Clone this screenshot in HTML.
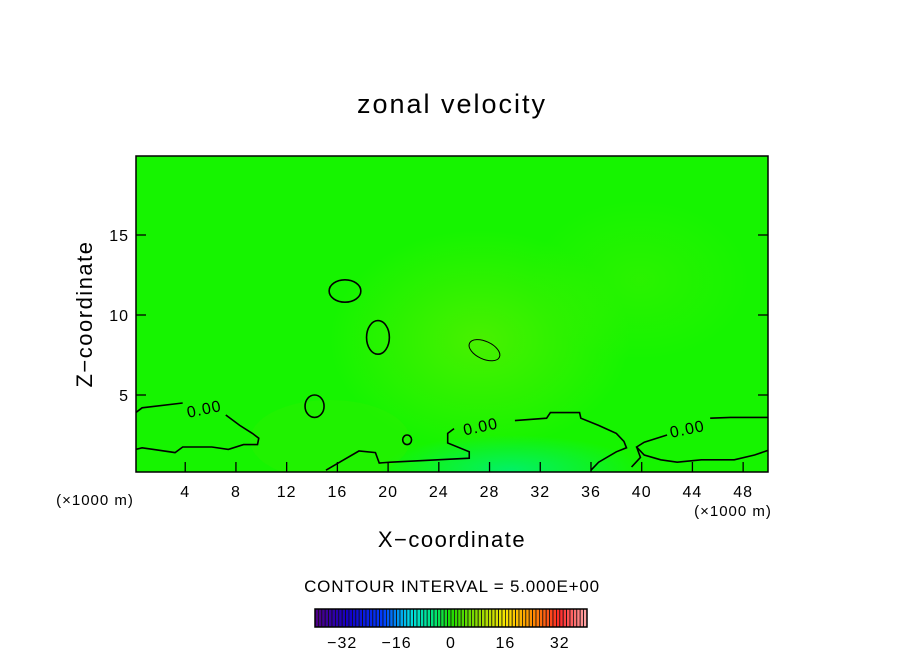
<!DOCTYPE html>
<html><head><meta charset="utf-8"><style>
body{margin:0;background:#fff}
svg text{font-family:"Liberation Sans",sans-serif;fill:#000}
</style></head><body>
<svg width="904" height="654" viewBox="0 0 904 654">
<defs>
<radialGradient id="gWarm" cx="0.5" cy="0.5" r="0.5"><stop offset="0" stop-color="#4ef000" stop-opacity="0.9"/><stop offset="1" stop-color="#4ef000" stop-opacity="0"/></radialGradient>
<radialGradient id="gCool" cx="0.5" cy="0.5" r="0.5"><stop offset="0" stop-color="#00f070" stop-opacity="0.9"/><stop offset="1" stop-color="#00f070" stop-opacity="0"/></radialGradient>
<clipPath id="clip"><rect x="136" y="156" width="632" height="316"/></clipPath>
</defs>
<text x="452" y="113" font-size="27" letter-spacing="2" text-anchor="middle">zonal velocity</text>
<g clip-path="url(#clip)">
<rect x="136" y="156" width="632" height="316" fill="#16f400"/>
<ellipse cx="480" cy="340" rx="150" ry="110" fill="url(#gWarm)"/>
<ellipse cx="640" cy="280" rx="110" ry="80" fill="url(#gWarm)" opacity="0.4"/>
<ellipse cx="510" cy="470" rx="130" ry="35" fill="url(#gCool)"/>
<ellipse cx="330" cy="440" rx="80" ry="40" fill="#38f000" opacity="0.3"/>
<g id="contours"></g>
</g>
<rect x="136" y="156" width="632" height="316" fill="none" stroke="#000" stroke-width="1.5"/>
<g id="axes"></g>
<text x="95" y="505" font-size="15" letter-spacing="1" text-anchor="middle">(×1000 m)</text>
<text x="733" y="516" font-size="15" letter-spacing="1" text-anchor="middle">(×1000 m)</text>
<text x="452" y="547" font-size="22" letter-spacing="1.5" text-anchor="middle">X−coordinate</text>
<text transform="translate(92,314) rotate(-90)" font-size="22" letter-spacing="1.5" text-anchor="middle">Z−coordinate</text>
<text x="452" y="592" font-size="17" letter-spacing="0.8" text-anchor="middle">CONTOUR INTERVAL = 5.000E+00</text>
<g id="cbar"></g>
</svg>
<script>
const xTicks=[4,8,12,16,20,24,28,32,36,40,44,48];
const zTicks=[5,10,15];
const cbarTicks=[-32,-16,0,16,32];
const contourLines=[
 [[0.1,3.9],[0.6,4.2],[3.8,4.5]],
 [[7.2,3.75],[8.3,3.1],[9.3,2.6],[9.8,2.3],[9.7,1.9],[8.6,1.9],[7.4,1.6],[6.1,1.75],[3.8,1.75],[3.2,1.4],[1.5,1.6],[0.6,1.7],[0.1,1.6]],
 [[15.1,0.3],[16.4,0.9],[17.7,1.5],[19.0,1.4],[19.3,0.75],[20.2,0.8],[26.4,1.05],[26.4,1.45],[24.7,2.0],[24.7,2.6],[25.2,2.9]],
 [[30.0,3.4],[32.5,3.55],[32.8,3.9],[35.1,3.9],[35.2,3.55],[36.6,3.1],[38.0,2.6],[38.6,2.1],[38.8,1.7],[38.0,1.45],[36.6,0.8],[36.0,0.3]],
 [[50,1.55],[48.9,1.25],[47.3,0.95],[44.7,0.95],[42.8,0.8],[41.5,0.95],[40.2,1.25],[39.6,1.75],[40.2,2.05],[42.0,2.5]],
 [[45.4,3.55],[47.0,3.6],[50,3.6]],
 [[39.2,0.5],[39.9,1.1],[39.6,1.75]]
];
const loopCenters=[[16.6,11.5],[19.2,8.6],[14.2,4.3],[27.6,7.8],[21.5,2.2]];
const loopRadii=[[1.25,0.7],[0.9,1.05],[0.75,0.7],[1.3,0.55],[0.35,0.3]];
const contourLabels=[[5.5,4.1,"0.00"],[27.3,3.0,"0.00"],[43.6,2.85,"0.00"]];
const NS="http://www.w3.org/2000/svg";
const X=v=>134.5+v*12.68, Z=v=>475-v*16;
const cg=document.getElementById('contours');
contourLines.forEach((pts,i)=>{
 const p=document.createElementNS(NS,'polyline');
 p.setAttribute('points',pts.map(q=>X(q[0])+','+Z(q[1])).join(' '));
 p.setAttribute('fill','none');p.setAttribute('stroke','#000');p.setAttribute('stroke-width','1.6');
 
 
 cg.appendChild(p);
});
loopCenters.forEach((c,i)=>{
 const e=document.createElementNS(NS,'ellipse');
 e.setAttribute('cx',X(c[0]));e.setAttribute('cy',Z(c[1]));
 e.setAttribute('rx',loopRadii[i][0]*12.68);e.setAttribute('ry',loopRadii[i][1]*16);
 e.setAttribute('fill','none');e.setAttribute('stroke','#000');e.setAttribute('stroke-width',i==3?'1':'1.6');
 if(i==3)e.setAttribute('transform','rotate(25 '+X(c[0])+' '+Z(c[1])+')');
 
 
 cg.appendChild(e);
});
contourLabels.forEach(l=>{
 const t=document.createElementNS(NS,'text');
 t.setAttribute('x',X(l[0]));t.setAttribute('y',Z(l[1])+5);
 t.setAttribute('font-size','16');t.setAttribute('letter-spacing','1');t.setAttribute('text-anchor','middle');
 t.setAttribute('transform','rotate(-12 '+X(l[0])+' '+Z(l[1])+')');
 t.textContent=l[2];
 
 
 cg.appendChild(t);
});
const ax=document.getElementById('axes');
xTicks.forEach(v=>{
 const l=document.createElementNS(NS,'line');
 l.setAttribute('x1',X(v));l.setAttribute('x2',X(v));l.setAttribute('y1',472);l.setAttribute('y2',462);l.setAttribute('stroke','#000');l.setAttribute('stroke-width','1.3');
 
 
 ax.appendChild(l);
 const t=document.createElementNS(NS,'text');
 t.setAttribute('x',X(v));t.setAttribute('y',497);t.setAttribute('font-size','16');t.setAttribute('letter-spacing','1');t.setAttribute('text-anchor','middle');t.textContent=v;
 
 
 ax.appendChild(t);
});
zTicks.forEach(v=>{
 [[136,146],[768,758]].forEach(s=>{
  const l=document.createElementNS(NS,'line');
  l.setAttribute('x1',s[0]);l.setAttribute('x2',s[1]);l.setAttribute('y1',Z(v));l.setAttribute('y2',Z(v));l.setAttribute('stroke','#000');l.setAttribute('stroke-width','1.3');
  
  
  ax.appendChild(l);
 });
 const t=document.createElementNS(NS,'text');
 t.setAttribute('x',129);t.setAttribute('y',Z(v)+6);t.setAttribute('font-size','16');t.setAttribute('letter-spacing','1');t.setAttribute('text-anchor','end');t.textContent=v;
 
 
 ax.appendChild(t);
});
const cb=document.getElementById('cbar');
const C=v=>451+v*3.4;
function col(v){
 const stops=[[-40,[80,0,130]],[-30,[20,0,200]],[-20,[0,60,255]],[-12,[0,220,230]],[-5,[0,230,120]],[0,[30,220,0]],[10,[170,220,0]],[16,[250,230,0]],[24,[255,140,0]],[32,[255,40,40]],[40,[255,170,170]]];
 for(let i=0;i<stops.length-1;i++){const a=stops[i],b=stops[i+1];if(v<=b[0]){const f=(v-a[0])/(b[0]-a[0]);return 'rgb('+a[1].map((c,k)=>Math.round(c+(b[1][k]-c)*f)).join(',')+')';}}
 return 'rgb(255,170,170)';
}
for(let v=-40;v<40;v++){
 const r=document.createElementNS(NS,'rect');
 r.setAttribute('x',C(v));r.setAttribute('y',609);r.setAttribute('width',3.4);r.setAttribute('height',18);
 r.setAttribute('fill',col(v+0.5));r.setAttribute('stroke','#111');r.setAttribute('stroke-width','0.8');
 
 
 cb.appendChild(r);
}
const fr=document.createElementNS(NS,'rect');
fr.setAttribute('x',C(-40));fr.setAttribute('y',609);fr.setAttribute('width',272);fr.setAttribute('height',18);fr.setAttribute('fill','none');fr.setAttribute('stroke','#000');fr.setAttribute('stroke-width','1.5');


cb.appendChild(fr);
cbarTicks.forEach(v=>{
 const t=document.createElementNS(NS,'text');
 t.setAttribute('x',C(v));t.setAttribute('y',648);t.setAttribute('font-size','16');t.setAttribute('letter-spacing','1');t.setAttribute('text-anchor','middle');t.textContent=v<0?'−'+(-v):v;
 
 
 cb.appendChild(t);
});
</script>
</body></html>
